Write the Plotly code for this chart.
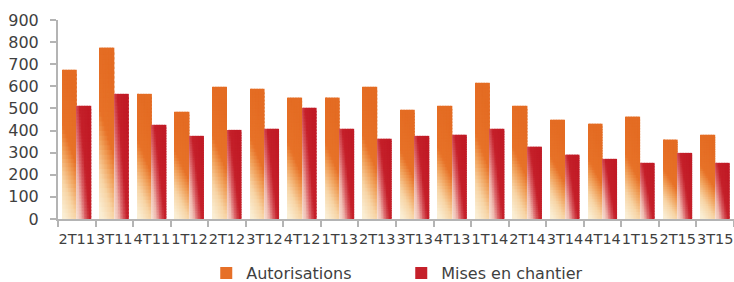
import numpy as np
import plotly.graph_objects as go

categories = ["2T11", "3T11", "4T11", "1T12", "2T12", "3T12", "4T12", "1T13", "2T13",
              "3T13", "4T13", "1T14", "2T14", "3T14", "4T14", "1T15", "2T15", "3T15"]
autorisations = [675, 775, 566, 485, 598, 589, 549, 549, 598,
                 494, 512, 616, 512, 449, 431, 463, 359, 381]
mises_en_chantier = [512, 566, 426, 376, 403, 408, 503, 408, 363,
                     376, 381, 408, 327, 291, 272, 254, 299, 254]
y_ticks = [0, 100, 200, 300, 400, 500, 600, 700, 800, 900]

FONT = "DejaVu Sans"
TXT = "#3f3f3f"
AX = "#b4b4b4"
BAR_W = 0.386
K = 9    # horizontal slices per bar (gradient)
N = 36   # vertical slices per bar (gradient)

A_STOPS = [(0.0, (250, 238, 212)), (0.22, (247, 212, 165)), (0.42, (240, 160, 90)),
           (0.58, (231, 114, 40)), (1.0, (228, 108, 35))]
M_STOPS = [(0.0, (249, 234, 218)), (0.25, (238, 185, 175)), (0.45, (217, 95, 100)),
           (0.65, (197, 32, 42)), (1.0, (193, 27, 38))]


def cmap(stops, s):
    s = min(max(s, 0.0), 1.0)
    for (s0, c0), (s1, c1) in zip(stops[:-1], stops[1:]):
        if s <= s1:
            f = (s - s0) / (s1 - s0) if s1 > s0 else 0
            c = [round(a + (b - a) * f) for a, b in zip(c0, c1)]
            return "rgb(%d,%d,%d)" % tuple(c)
    return "rgb(%d,%d,%d)" % stops[-1][1]


def a_shade(u, t):
    return cmap(A_STOPS, t * 1.0 + 0.28 * (u - 0.3))


def m_shade(u, t):
    return cmap(M_STOPS, 0.48 * t + 0.68 * u)


fig = go.Figure()


def add_series(name, values, start, shade, legend_color):
    v = np.array(values, dtype=float)
    step_w = BAR_W / K
    for i in range(K):
        u = (i + 0.5) / K
        # each slice overlaps the previous one a little so that no seams appear
        x0 = start + max(i - 0.5, 0) * step_w
        x1 = start + (i + 1) * step_w
        for j in range(N):
            t = (j + 0.5) / N
            lo = max(j - 0.5, 0) / N
            hi = (j + 1) / N
            fig.add_trace(go.Bar(
                x=categories, y=v * (hi - lo), base=v * lo,
                offset=x0, width=x1 - x0,
                marker=dict(color=shade(u, t), line=dict(width=0)),
                name=name, legendgroup=name, showlegend=False, hoverinfo="skip",
            ))
    # legend entry
    fig.add_trace(go.Bar(
        x=[categories[0]], y=[0], name=name, legendgroup=name, showlegend=True,
        marker=dict(color=legend_color, line=dict(width=0)), hoverinfo="skip",
        offset=start, width=BAR_W,
    ))


add_series("Autorisations", autorisations, -BAR_W, a_shade, "rgb(230,112,40)")
add_series("Mises en chantier", mises_en_chantier, 0.0, m_shade, "rgb(197,32,42)")

fig.update_layout(
    width=734, height=282,
    margin=dict(l=58, r=0, t=20, b=63, autoexpand=False),
    paper_bgcolor="white", plot_bgcolor="white",
    barmode="overlay",
    font=dict(family=FONT, size=16, color=TXT),
    showlegend=True,
    legend=dict(orientation="h", xref="container", yref="container",
                x=0.281, xanchor="left", y=0.032, yanchor="middle",
                font=dict(family=FONT, size=16, color=TXT),
                entrywidth=150, entrywidthmode="pixels",
                itemwidth=30, bgcolor="rgba(0,0,0,0)"),
    xaxis=dict(type="category", categoryorder="array", categoryarray=categories,
               range=[-0.5, len(categories) - 0.5], tickangle=0, dtick=1, automargin=False,
               tickson="boundaries", ticks="outside", ticklen=6, tickcolor=AX, tickwidth=2,
               showline=True, linecolor=AX, linewidth=2, showgrid=False, zeroline=False,
               tickfont=dict(family=FONT, size=14.5, color=TXT), ticklabelstandoff=6),
    yaxis=dict(range=[0, 900], tickmode="array", tickvals=y_ticks, automargin=False,
               ticktext=[str(t) for t in y_ticks],
               ticks="outside", ticklen=6, tickcolor=AX, tickwidth=2,
               showline=True, linecolor=AX, linewidth=2, showgrid=False, zeroline=False,
               tickfont=dict(family=FONT, size=16, color=TXT), ticklabelstandoff=8),
)

fig.write_html("out.html", config={"displayModeBar": False, "staticPlot": False},
               post_script="document.body.style.margin='0';document.body.style.overflow='hidden';")
